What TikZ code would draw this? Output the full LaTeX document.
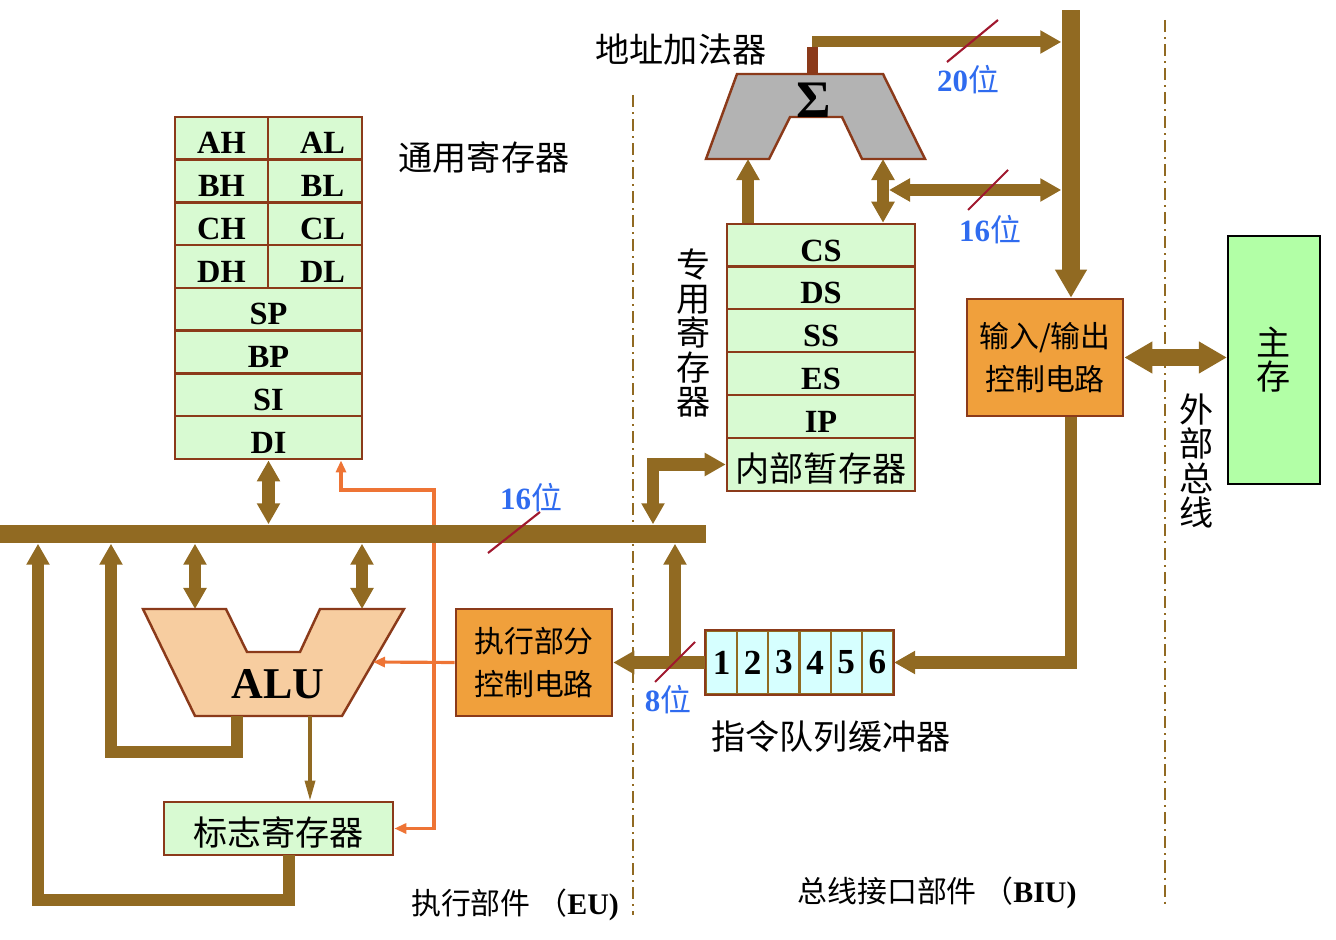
\documentclass[tikz,border=0pt]{standalone}
\usepackage{fontspec}
\setmainfont{Liberation Serif}
\newfontfamily\cjk{Noto Sans CJK SC}
\usetikzlibrary{arrows.meta}
\definecolor{busc}{HTML}{916A22}
\definecolor{edge}{HTML}{8B3A1A}
\definecolor{regfill}{HTML}{D8FAD2}
\definecolor{cellfill}{HTML}{D6FFFF}
\definecolor{boxfill}{HTML}{F0A03C}
\definecolor{memfill}{HTML}{B2FFA6}
\definecolor{alufill}{HTML}{F7CDA0}
\definecolor{addfill}{HTML}{B3B3B3}
\definecolor{ctrlc}{HTML}{EE7435}
\definecolor{bitblue}{HTML}{2F6BEF}
\definecolor{slashc}{HTML}{A0182E}
\newcommand\wei{{\cjk\mdseries 位}}

\begin{document}
\begin{tikzpicture}[x=0.01cm,y=-0.01cm,>={Triangle[width=0.22cm,length=0.21cm]},
  reg/.style={draw=edge, fill=regfill, line width=0.7pt, inner sep=0pt, text height=0.31cm, text depth=0pt, font=\fontsize{9.2}{10}\selectfont\bfseries},
  cell/.style={draw=busc, fill=cellfill, line width=0.6pt, inner sep=0pt, minimum width=0.312cm, minimum height=0.63cm, font=\fontsize{10}{11}\selectfont\bfseries},
  ctlbox/.style={draw=edge, fill=boxfill, line width=0.7pt, align=center, font=\cjk\fontsize{8.5}{12}\selectfont},
  bus/.style={fill=busc, inner sep=0pt},
  wire/.style={busc, line width=0.12cm},
  ctrl/.style={ctrlc, line width=0.9pt, -{Triangle[width=0.1cm,length=0.12cm]}},
  zh/.style={font=\cjk\fontsize{9.7}{9.7}\selectfont},
  zhs/.style={font=\cjk\fontsize{8.5}{10}\selectfont},
  bits/.style={text=bitblue, font=\fontsize{8.8}{10}\selectfont\bfseries},
  tick/.style={slashc, line width=0.6pt},
  divider/.style={busc, line width=0.6pt, dash pattern=on 0.12cm off 0.05cm on 0.02cm off 0.05cm}]
\useasboundingbox (0,0) rectangle (1336,940);

\draw[divider] (633,95) -- (633,915);
\draw[divider] (1165,20) -- (1165,905);

\foreach \h/\l [count=\i from 0] in {AH/AL,BH/BL,CH/CL,DH/DL} {
  \node[reg, minimum width=0.93cm, minimum height=0.43cm] (\h) at (221.5,138.4+42.75*\i) {\h};
  \node[reg, minimum width=0.94cm, minimum height=0.43cm] (\l) at (315,138.4+42.75*\i) {\hspace{0.15cm}\l};
}
\foreach \r [count=\i from 0] in {SP,BP,SI,DI}
  \node[reg, minimum width=1.87cm, minimum height=0.43cm] (\r) at (268.5,309.4+42.75*\i) {\r};
\node[zh] (genlbl) at (484,158) {通用寄存器};

\foreach \r/\y in {CS/245.5,DS/288,SS/330.5,ES/373.5,IP/416.5}
  \node[reg, minimum width=1.88cm, minimum height=0.43cm] (\r) at (821,\y) {\r};
\node[reg, zh, text height=0.33cm, minimum width=1.88cm, minimum height=0.53cm] (tmp) at (821,464.5) {内部暂存器};
\node[zh, align=center] (seglbl) at (694,333) {专\\用\\寄\\存\\器};

\draw[edge, line width=0.7pt, fill=addfill] (737,74) -- (883,74) -- (925,159) -- (862,159) -- (842,117) -- (790,117) -- (769,159) -- (706,159) -- cycle;
\node[font=\fontsize{15}{16}\selectfont\bfseries] (sigma) at (814,100) {Σ};
\node[zh] (addlbl) at (681,50) {地址加法器};

\draw[edge, line width=0.7pt, fill=alufill] (143,609) -- (226,609) -- (247,652) -- (300,652) -- (320,609) -- (404,609) -- (342,716) -- (195,716) -- cycle;
\node[font=\fontsize{12.5}{14}\selectfont\bfseries] (alu) at (278,684) {ALU};

\node[reg, zh, text height=0.33cm, minimum width=2.29cm, minimum height=0.53cm] (flag) at (278.5,828.5) {标志寄存器};
\node[ctlbox, minimum width=1.56cm, minimum height=1.07cm] (ctl) at (534,662.5) {执行部分\\控制电路};
\node[ctlbox, minimum width=1.56cm, minimum height=1.17cm] (io) at (1045,357.5) {输入/输出\\控制电路};
\node[draw=black, fill=memfill, line width=0.6pt, minimum width=0.92cm, minimum height=2.48cm, zh, align=center] (mem) at (1274,360) {主\\存};
\node[zh, align=center] (xlbl) at (1197,461) {外\\部\\总\\线};

\foreach \n in {1,...,6}
  \node[cell] (q\n) at (706+31.17*\n-15.58,662.5) {\n};
\draw[edge, line width=0.7pt] (q1.north west) rectangle (q6.south east);
\node[zh] (qlbl) at (831,737) {指令队列缓冲器};

\coordinate (cjt) at (434,662);
\coordinate (cup) at (341,490);
\coordinate (aluedge) at (373,662);
\draw[ctrl] (ctl.west) -- (aluedge);
\draw[ctrl] (cjt) |- (cup) -- (cup |- DI.south);
\draw[ctrl] (cjt) |- (flag.east);

\node[bus, minimum width=7.06cm, minimum height=0.18cm] (ibus) at (353,534) {};
\node[bus, minimum width=0.18cm, minimum height=2.5cm] (xbus) at (1071,135) {};

\coordinate (aluinA) at (195,609);
\coordinate (aluinB) at (362,609);
\coordinate (aluout) at (237,716);
\coordinate (aluret) at (111,752);
\coordinate (aluflag) at (310,716);
\coordinate (flagout) at (289,855);
\coordinate (flagret) at (38,900);
\coordinate (qtap) at (675,662);
\coordinate (tmptap) at (653,468);
\coordinate (sumout) at (812,74);
\coordinate (sumtop) at (812,42);
\coordinate (addinL) at (748,159);
\coordinate (addinR) at (883,159);
\coordinate (jn) at (889,190);

\draw[wire,<->] (DI.south) -- (DI.south |- ibus.north);
\draw[wire,<->] (aluinA |- ibus.south) -- (aluinA);
\draw[wire,<->] (aluinB |- ibus.south) -- (aluinB);
\draw[wire,->] (aluout) |- (aluret) -- (aluret |- ibus.south);
\draw[busc, line width=0.9pt, -{Triangle[width=0.1cm,length=0.2cm]}] (aluflag) -- (aluflag |- flag.north);
\draw[wire,->] (flagout) |- (flagret) -- (flagret |- ibus.south);
\draw[wire,->] (q1.west) -- (ctl.east);
\draw[wire,->] (qtap) -- (qtap |- ibus.south);
\draw[wire,<->] (tmptap |- ibus.north) |- (tmp.west);
\draw[wire,->] (io.south -| xbus) |- (q6.east);
\draw[wire, line width=0.18cm, -{Triangle[width=0.3cm,length=0.28cm]}] ([yshift=0.1cm]xbus.south) -- (xbus.south |- io.north);
\draw[wire, line width=0.17cm, {Triangle[width=0.3cm,length=0.28cm]}-{Triangle[width=0.3cm,length=0.28cm]}] (io.east) -- (io.east -| mem.west);

\draw[edge, line width=0.11cm] (sumout) -- ([yshift=-0.05cm]sumtop);
\draw[wire, line width=0.11cm, ->] (sumtop) -- (sumtop -| xbus.west);
\draw[wire,->] (addinL |- CS.north) -- (addinL);
\draw[wire,<->] (addinR |- CS.north) -- (addinR);
\draw[wire,<->] (jn) -- (jn -| xbus.west);

\draw[tick] (488,553) -- (540,512);
\node[bits] (b16a) at (531,498) {16\wei};
\draw[tick] (655,682) -- (695,642);
\node[bits] (b8) at (668,700) {8\wei};
\draw[tick] (947,62) -- (998,20);
\node[bits] (b20) at (968,80) {20\wei};
\draw[tick] (968,210) -- (1008,170);
\node[bits] (b16b) at (990,230) {16\wei};

\node[zhs] (eulbl) at (515,905) {执行部件 （{\rmfamily\bfseries EU)}};
\node[zhs] (biulbl) at (937,893) {总线接口部件 （{\rmfamily\bfseries BIU)}};
\end{tikzpicture}
\end{document}
